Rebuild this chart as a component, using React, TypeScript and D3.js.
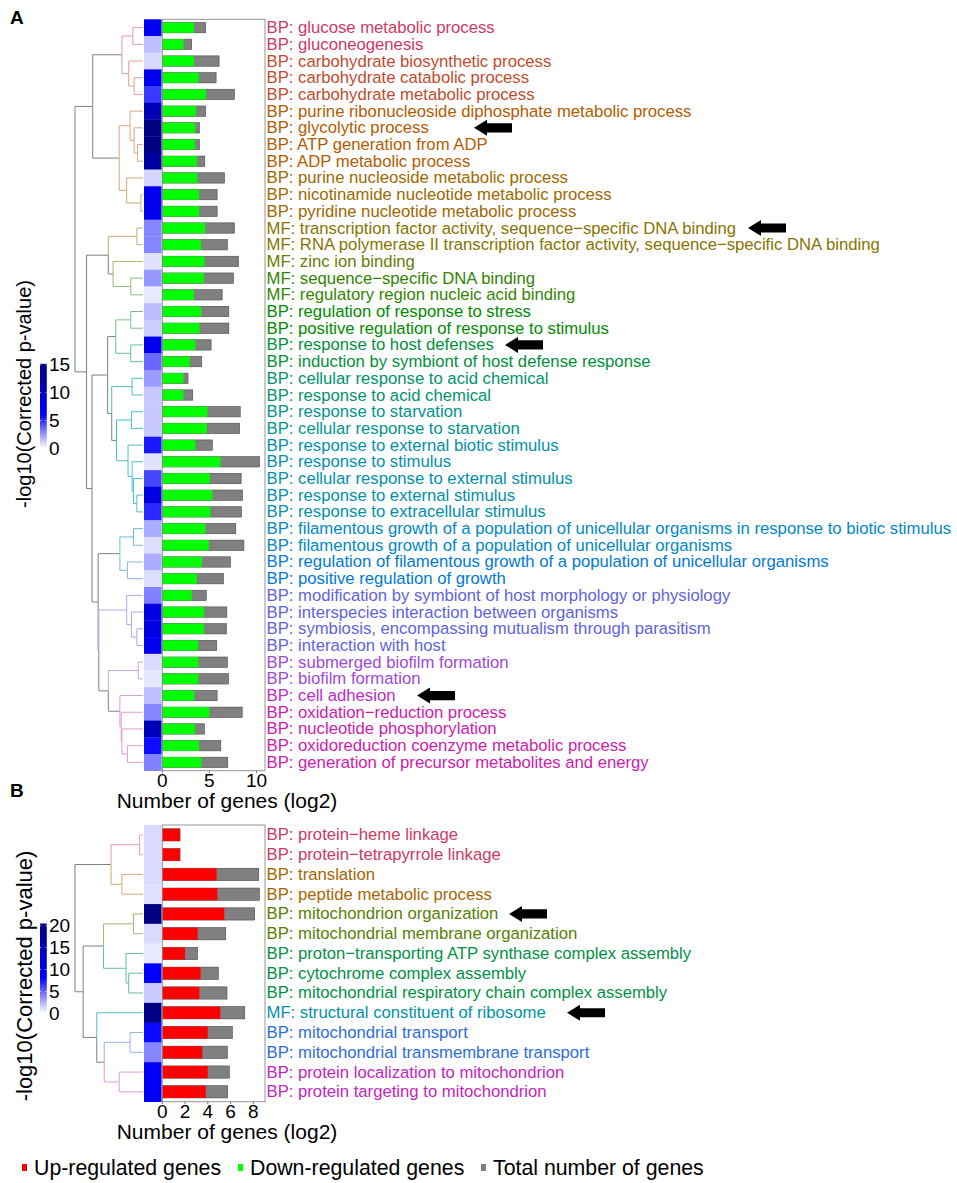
import React from "react";
import * as d3 from "d3";

// ---------------- DATA ----------------
const termsA = [
  "BP: glucose metabolic process",
  "BP: gluconeogenesis",
  "BP: carbohydrate biosynthetic process",
  "BP: carbohydrate catabolic process",
  "BP: carbohydrate metabolic process",
  "BP: purine ribonucleoside diphosphate metabolic process",
  "BP: glycolytic process",
  "BP: ATP generation from ADP",
  "BP: ADP metabolic process",
  "BP: purine nucleoside metabolic process",
  "BP: nicotinamide nucleotide metabolic process",
  "BP: pyridine nucleotide metabolic process",
  "MF: transcription factor activity, sequence\u2212specific DNA binding",
  "MF: RNA polymerase II transcription factor activity, sequence\u2212specific DNA binding",
  "MF: zinc ion binding",
  "MF: sequence\u2212specific DNA binding",
  "MF: regulatory region nucleic acid binding",
  "BP: regulation of response to stress",
  "BP: positive regulation of response to stimulus",
  "BP: response to host defenses",
  "BP: induction by symbiont of host defense response",
  "BP: cellular response to acid chemical",
  "BP: response to acid chemical",
  "BP: response to starvation",
  "BP: cellular response to starvation",
  "BP: response to external biotic stimulus",
  "BP: response to stimulus",
  "BP: cellular response to external stimulus",
  "BP: response to external stimulus",
  "BP: response to extracellular stimulus",
  "BP: filamentous growth of a population of unicellular organisms in response to biotic stimulus",
  "BP: filamentous growth of a population of unicellular organisms",
  "BP: regulation of filamentous growth of a population of unicellular organisms",
  "BP: positive regulation of growth",
  "BP: modification by symbiont of host morphology or physiology",
  "BP: interspecies interaction between organisms",
  "BP: symbiosis, encompassing mutualism through parasitism",
  "BP: interaction with host",
  "BP: submerged biofilm formation",
  "BP: biofilm formation",
  "BP: cell adhesion",
  "BP: oxidation\u2212reduction process",
  "BP: nucleotide phosphorylation",
  "BP: oxidoreduction coenzyme metabolic process",
  "BP: generation of precursor metabolites and energy",
];
const downA = [3.37, 2.24, 3.37, 3.87, 4.65, 3.59, 3.48, 3.48, 3.66, 3.72, 3.9, 3.9, 4.54, 4.12, 4.47, 4.44, 3.37, 4.12, 3.94, 3.51, 2.91, 2.24, 2.24, 4.79, 4.72, 3.51, 6.17, 5.04, 5.32, 5.11, 4.57, 4.93, 4.22, 3.66, 3.12, 4.44, 4.44, 3.83, 3.83, 3.83, 3.4, 5.0, 3.48, 3.9, 4.15];
const totalA = [4.6, 3.12, 6.03, 5.71, 7.66, 4.6, 3.94, 3.94, 4.51, 6.6, 5.82, 5.82, 7.66, 6.91, 8.09, 7.55, 6.35, 7.06, 7.06, 5.18, 4.19, 2.73, 3.23, 8.27, 8.2, 5.32, 10.32, 8.37, 8.51, 8.4, 7.8, 8.66, 7.23, 6.49, 4.68, 6.85, 6.81, 5.78, 6.91, 7.02, 5.82, 8.48, 4.47, 6.21, 6.95];
const pvalA = [7.0, 1.5, 0.9, 7.2, 4.7, 11.5, 15.2, 15.0, 12.9, 1.0, 7.3, 7.3, 2.9, 2.9, 0.7, 2.5, 0.55, 1.6, 1.2, 7.2, 3.6, 2.4, 1.3, 1.3, 1.3, 5.5, 0.7, 4.4, 8.1, 5.1, 2.0, 0.8, 2.0, 0.8, 3.0, 8.1, 8.1, 7.2, 0.85, 0.6, 1.5, 2.9, 11.0, 5.8, 3.0];
const clusterA = [0, 0, 1, 1, 1, 2, 2, 2, 2, 3, 3, 3, 4, 4, 5, 6, 6, 7, 7, 8, 8, 9, 9, 10, 10, 11, 11, 11, 11, 11, 12, 12, 13, 13, 14, 14, 14, 14, 15, 15, 16, 17, 17, 17, 17];
// dendrogram: [mergeHeight, left, right]; numbers are row indices
const treeA: any = [1.0,
  [0.74,
    [0.31, [0.15, 0, 1], [0.21, 2, [0.13, 3, 4]]],
    [0.35, [0.19, 5, [0.13, 6, [0.08, 7, 8]]], [0.24, 9, [0.03, 10, 11]]]],
  [0.83,
    [0.51, [0.09, 12, 13], [0.44, 14, [0.18, 15, 16]]],
    [0.75,
      [0.52,
        [0.40, [0.18, 17, 18], [0.18, 19, 20]],
        [0.46, [0.16, 21, 22], [0.39, [0.17, 23, 24], [0.22, 25, [0.16, 26, [0.14, 27, [0.09, 28, 29]]]]]]],
      [0.66,
        [0.34, [0.14, 30, 31], [0.23, 32, 33]],
        [0.65,
          [0.24, 34, [0.17, 35, [0.09, 36, 37]]],
          [0.51, [0.07, 38, 39], [0.34, 40, [0.32, 41, [0.31, 42, [0.23, 43, 44]]]]]]]]]];

const termsB = [
  "BP: protein\u2212heme linkage",
  "BP: protein\u2212tetrapyrrole linkage",
  "BP: translation",
  "BP: peptide metabolic process",
  "BP: mitochondrion organization",
  "BP: mitochondrial membrane organization",
  "BP: proton\u2212transporting ATP synthase complex assembly",
  "BP: cytochrome complex assembly",
  "BP: mitochondrial respiratory chain complex assembly",
  "MF: structural constituent of ribosome",
  "BP: mitochondrial transport",
  "BP: mitochondrial transmembrane transport",
  "BP: protein localization to mitochondrion",
  "BP: protein targeting to mitochondrion",
];
const upB = [1.56, 1.56, 4.78, 4.84, 5.45, 3.11, 2.0, 3.37, 3.26, 5.1, 3.99, 3.52, 3.99, 3.82];
const totalB = [1.56, 1.56, 8.48, 8.53, 8.12, 5.58, 3.11, 4.93, 5.69, 7.25, 6.16, 5.72, 5.89, 5.75];
const pvalB = [1.2, 1.2, 1.2, 1.0, 20.5, 1.2, 0.75, 8.5, 1.7, 20.0, 7.9, 3.9, 9.3, 9.3];
const clusterB = [0, 0, 1, 1, 2, 2, 3, 3, 3, 4, 5, 5, 6, 6];
const treeB: any = [1.0,
  [0.47, [0.05, 0, 1], [0.31, 2, 3]],
  [0.88,
    [0.58, [0.14, 4, 5], [0.25, 6, [0.21, 7, 8]]],
    [0.68, 9, [0.57, [0.19, 10, 11], [0.35, 12, 13]]]]];

const ticksA = [0, 5, 10];
const ticksB = [0, 2, 4, 6, 8];
const cbTicksA = [0, 5, 10, 15];
const cbTicksB = [0, 5, 10, 15, 20];
const arrowsA = [{ row: 6, x: 474 }, { row: 12, x: 748 }, { row: 19, x: 505 }, { row: 40, x: 417 }];
const arrowsB = [{ row: 4, x: 509 }, { row: 9, x: 567 }];
const legendItems = [
  { label: "Up-regulated genes", color: "#FF0000", x: 22 },
  { label: "Down-regulated genes", color: "#00FF00", x: 238 },
  { label: "Total number of genes", color: "#808080", x: 481 },
];

// ---------------- helpers ----------------
const FONT = "'Liberation Sans', Arial, Helvetica, sans-serif";

function hclLuv(h: number, c: number, l: number): string {
  const hr = (h * Math.PI) / 180;
  const u = c * Math.cos(hr), v = c * Math.sin(hr);
  const Y = l > 8 ? Math.pow((l + 16) / 116, 3) : l / 903.3;
  const un = 0.1978398, vn = 0.4683363;
  const up = u / (13 * l) + un, vp = v / (13 * l) + vn;
  const X = (Y * 9 * up) / (4 * vp);
  const Z = (Y * (12 - 3 * up - 20 * vp)) / (4 * vp);
  const lin = [
    3.2404542 * X - 1.5371385 * Y - 0.4985314 * Z,
    -0.969266 * X + 1.8760108 * Y + 0.041556 * Z,
    0.0556434 * X - 0.2040259 * Y + 1.0572252 * Z,
  ];
  const g = lin.map((q) => {
    q = Math.max(0, Math.min(1, q));
    return Math.round(255 * (q <= 0.0031308 ? 12.92 * q : 1.055 * Math.pow(q, 1 / 2.4) - 0.055));
  });
  return d3.rgb(g[0], g[1], g[2]).formatHex();
}

const LEAF_X = 143;
const ROOT_X = 75;
const HEAT_X0 = 144;
const HEAT_X1 = 161.6;
const BAR_X0 = 162.3;
const BAR_X1 = 265;
const LABEL_X = 266.5;

type PanelProps = {
  id: string;
  terms: string[];
  part: number[];
  total: number[];
  pval: number[];
  cluster: number[];
  tree: any;
  y0: number;
  y1: number;
  xMax: number;
  ticks: number[];
  partColor: string;
  cbTicks: number[];
  cbZeroY: number;
  cbPxPer5: number;
  titleSize: number;
  titleY: number;
  arrows: { row: number; x: number }[];
  letter: string;
  letterY: number;
  hueSlots: number;
};

function Panel(p: PanelProps) {
  const n = p.terms.length;
  const y = d3.scaleBand<number>().domain(d3.range(n)).range([p.y0, p.y1]);
  const bw = y.bandwidth();
  const x = d3.scaleLinear().domain([0, p.xMax]).range([BAR_X0, BAR_X1]);
  const pMax = d3.max(p.pval)!;
  const heat = d3.scaleLinear<string>().domain([0, pMax * 0.4, pMax]).range(["#ffffff", "#0000ff", "#000080"]);
  const labelColor = (k: number) => hclLuv((360 * k) / p.hueSlots, 100, 48);
  const branchColor = (k: number) => hclLuv((360 * k) / p.hueSlots, 50, 72);

  // dendrogram
  const hx = d3.scaleLinear().domain([0, 1]).range([LEAF_X, ROOT_X]);
  const root: any = d3.hierarchy(p.tree, (d: any) => (Array.isArray(d) ? [d[1], d[2]] : null));
  root.eachAfter((nd: any) => {
    if (nd.children) {
      const [a, b] = nd.children;
      nd.py = (a.py + b.py) / 2;
      nd.px = hx(nd.data[0]);
      nd.cl = a.cl === b.cl ? a.cl : -1;
    } else {
      nd.py = y(nd.data)! + bw / 2;
      nd.px = LEAF_X;
      nd.cl = p.cluster[nd.data];
    }
  });
  const segs: { d: string; c: string; gray: boolean }[] = [];
  root.each((nd: any) => {
    if (!nd.children) return;
    nd.children.forEach((ch: any) => {
      const gray = ch.cl < 0;
      segs.push({
        d: `M${nd.px},${nd.py}V${ch.py}H${ch.px}`,
        c: gray ? "#808080" : branchColor(ch.cl),
        gray,
      });
    });
  });
  segs.sort((a, b) => (a.gray === b.gray ? 0 : a.gray ? -1 : 1));

  // colorbar
  const cbY = d3.scaleLinear().domain([0, 5]).range([p.cbZeroY, p.cbZeroY - p.cbPxPer5]);
  const gradId = "grad" + p.id;
  const stops = d3.range(0, 1.0001, 0.05);

  const barH = bw * 0.62;
  const titleCX = 24;

  return (
    <g>
      <text x={10} y={p.letterY} fontFamily={FONT} fontWeight="bold" fontSize={19} fill="#000">
        {p.letter}
      </text>
      {/* dendrogram */}
      <g fill="none" strokeWidth={1}>
        {segs.map((s, i) => (
          <path key={i} d={s.d} stroke={s.c} />
        ))}
      </g>
      {/* heatmap */}
      {p.pval.map((v, i) => (
        <rect key={i} x={HEAT_X0} y={y(i)!} width={HEAT_X1 - HEAT_X0} height={bw + 0.3} fill={heat(v)} />
      ))}
      {/* bars */}
      {p.total.map((v, i) => (
        <rect key={"t" + i} x={x(0)} y={y(i)! + (bw - barH) / 2} width={x(v) - x(0)} height={barH} fill="#808080" stroke="#4a4a4a" strokeWidth={0.6} />
      ))}
      {p.part.map((v, i) => (
        <rect key={"p" + i} x={x(0)} y={y(i)! + (bw - barH) / 2} width={x(v) - x(0)} height={barH} fill={p.partColor} />
      ))}
      <rect x={BAR_X0} y={p.y0} width={BAR_X1 - BAR_X0} height={p.y1 - p.y0} fill="none" stroke="#8a8a8a" strokeWidth={0.9} />
      {/* x axis */}
      {p.ticks.map((t) => (
        <g key={t}>
          <line x1={x(t)} x2={x(t)} y1={p.y1} y2={p.y1 + 2.5} stroke="#555" strokeWidth={0.8} />
          <text x={x(t)} y={p.y1 + 9.5} textAnchor="middle" dominantBaseline="central" fontFamily={FONT} fontSize={19} fill="#000">
            {t}
          </text>
        </g>
      ))}
      <text x={227} y={p.y1 + 30} textAnchor="middle" dominantBaseline="central" fontFamily={FONT} fontSize={21} fill="#000">
        Number of genes (log2)
      </text>
      {/* labels */}
      {p.terms.map((t, i) => (
        <text key={i} x={LABEL_X} y={y(i)! + bw / 2} dominantBaseline="central" fontFamily={FONT} fontSize={16.7} fill={labelColor(p.cluster[i])}>
          {t}
        </text>
      ))}
      {/* arrows */}
      {p.arrows.map((a, i) => {
        const cy = y(a.row)! + bw / 2;
        const L = 38, hl = 13, hh = 8, sh = 4.6;
        const d = `M${a.x},${cy}L${a.x + hl},${cy - hh}L${a.x + hl},${cy - sh}L${a.x + L},${cy - sh}L${a.x + L},${cy + sh}L${a.x + hl},${cy + sh}L${a.x + hl},${cy + hh}Z`;
        return <path key={i} d={d} fill="#000" />;
      })}
      {/* colorbar */}
      <defs>
        <linearGradient id={gradId} x1="0" y1="1" x2="0" y2="0">
          {stops.map((s) => (
            <stop key={s} offset={s} stopColor={heat(s * pMax)} />
          ))}
        </linearGradient>
      </defs>
      <rect x={40} y={cbY(pMax)} width={6.8} height={cbY(0) - cbY(pMax)} fill={`url(#${gradId})`} />
      {p.cbTicks.map((t) => (
        <g key={t}>
          <line x1={40} x2={41.4} y1={cbY(t)} y2={cbY(t)} stroke="#fff" strokeWidth={0.6} />
          <line x1={45.4} x2={46.8} y1={cbY(t)} y2={cbY(t)} stroke="#fff" strokeWidth={0.6} />
          <text x={49} y={cbY(t)} dominantBaseline="central" fontFamily={FONT} fontSize={19} fill="#000">
            {t}
          </text>
        </g>
      ))}
      <text
        transform={`translate(${titleCX},${p.titleY}) rotate(-90)`}
        textAnchor="middle"
        dominantBaseline="central"
        fontFamily={FONT}
        fontSize={p.titleSize}
        fill="#000"
      >
        -log10(Corrected p-value)
      </text>
    </g>
  );
}

export default function App() {
  const kA = d3.max(clusterA)! + 1;
  const kB = d3.max(clusterB)! + 1;
  return (
    <svg width={957} height={1183} style={{ position: "absolute", left: 0, top: 0, background: "#fff" }}>
      <rect x={0} y={0} width={957} height={1183} fill="#fff" />
      <Panel
        id="A"
        terms={termsA}
        part={downA}
        total={totalA}
        pval={pvalA}
        cluster={clusterA}
        tree={treeA}
        y0={19.3}
        y1={770.7}
        xMax={10.9}
        ticks={ticksA}
        partColor="#00FF00"
        cbTicks={cbTicksA}
        cbZeroY={448.3}
        cbPxPer5={27.8}
        titleSize={20}
        titleY={394}
        arrows={arrowsA}
        letter="A"
        letterY={24}
        hueSlots={kA + 1}
      />
      <Panel
        id="B"
        terms={termsB}
        part={upB}
        total={totalB}
        pval={pvalB}
        cluster={clusterB}
        tree={treeB}
        y0={825}
        y1={1101.7}
        xMax={9.03}
        ticks={ticksB}
        partColor="#FF0000"
        cbTicks={cbTicksB}
        cbZeroY={1013.3}
        cbPxPer5={21.9}
        titleSize={22}
        titleY={976}
        arrows={arrowsB}
        letter="B"
        letterY={797}
        hueSlots={kB}
      />
      {legendItems.map((it) => (
        <g key={it.label}>
          <rect x={it.x} y={1164} width={5} height={7} fill={it.color} />
          <text x={it.x + 12} y={1168} dominantBaseline="central" fontFamily={FONT} fontSize={21.3} fill="#000">
            {it.label}
          </text>
        </g>
      ))}
    </svg>
  );
}
